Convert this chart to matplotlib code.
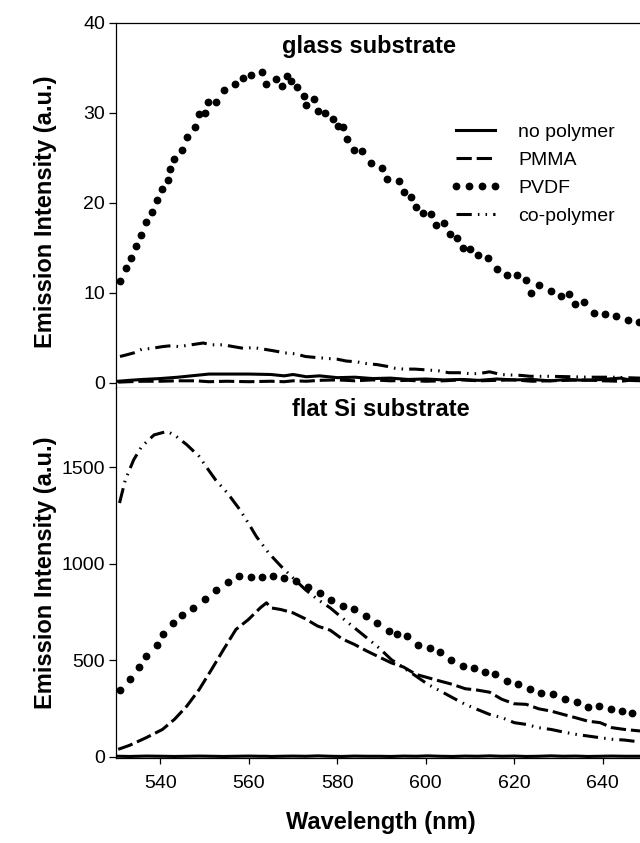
import matplotlib
matplotlib.use("Agg")
import matplotlib.pyplot as plt

plt.rcParams["font.family"] = ["Liberation Sans", "DejaVu Sans"]

# --- glass substrate (haut) ---
wl_top = [530.5, 533, 536, 540, 544, 548, 551, 555, 560, 565, 568, 570, 573, 576, 580, 584,
          588, 592, 596, 600, 604, 608, 612, 616, 620, 624, 628, 632, 636, 640, 644, 646, 648.4]
glass_none = [0.15, 0.25, 0.35, 0.45, 0.6, 0.8, 0.95, 0.95, 0.95, 0.9, 0.75, 0.9, 0.65, 0.75, 0.55, 0.6,
              0.45, 0.5, 0.35, 0.4, 0.3, 0.35, 0.25, 0.4, 0.3, 0.35, 0.2, 0.35, 0.25, 0.35, 0.5, 0.3, 0.2]
glass_pmma = [0.05, 0.1, 0.15, 0.15, 0.2, 0.2, 0.1, 0.15, 0.1, 0.15, 0.1, 0.2, 0.15, 0.25, 0.3, 0.2,
              0.3, 0.2, 0.25, 0.15, 0.2, 0.3, 0.2, 0.25, 0.3, 0.15, 0.2, 0.25, 0.3, 0.2, 0.15, 0.25, 0.2]

wl_glass_co = [530.9, 532.5, 534, 535.8, 538, 540.5, 542.5, 544.2, 547, 549.7, 551.6, 554.3, 556.5,
               558.9, 561, 563.6, 566, 568.2, 570.5, 572.8, 575, 577.4, 580, 582, 584.5, 586.7, 589,
               591.3, 593, 595, 597.5, 600.5, 603, 605.2, 607.5, 609.8, 612, 614.4, 617, 619, 621.5,
               623.6, 628, 632.9, 637, 642.1, 645, 648.4]
glass_co = [2.9, 3.1, 3.3, 3.7, 3.8, 4.0, 4.1, 4.0, 4.2, 4.4, 4.2, 4.2, 4.0, 3.8, 3.9, 3.7, 3.5, 3.3,
            3.2, 2.9, 2.8, 2.7, 2.6, 2.4, 2.3, 2.1, 2.0, 1.8, 1.6, 1.5, 1.5, 1.4, 1.3, 1.1, 1.1, 1.0,
            1.0, 1.2, 0.9, 0.85, 0.8, 0.7, 0.7, 0.65, 0.6, 0.6, 0.55, 0.5]

wl_glass_pvdf = [530.9, 532.2, 533.3, 534.5, 535.7, 536.8, 538.1, 539.2, 540.3, 541.7, 542.3, 543.2,
                 545.0, 546.1, 547.9, 548.8, 550.0, 550.9, 552.7, 554.4, 556.9, 558.8, 560.6, 562.9,
                 563.9, 566.2, 567.5, 568.7, 569.5, 571.0, 572.4, 573.0, 574.7, 575.7, 577.2, 579.1,
                 580.2, 581.4, 582.3, 583.7, 585.6, 587.6, 590.0, 591.3, 593.9, 595.0, 596.6, 597.8,
                 599.3, 601.1, 602.4, 604.2, 605.5, 607.1, 608.5, 609.9, 611.8, 614.1, 616.0, 618.3,
                 620.6, 622.7, 623.7, 625.5, 628.3, 630.5, 632.3, 633.8, 635.7, 637.9, 640.6, 643.0,
                 645.8, 648.1]
glass_pvdf = [11.3, 12.7, 13.9, 15.2, 16.4, 17.8, 19.0, 20.3, 21.5, 22.5, 23.7, 24.9,
              25.9, 27.3, 28.4, 29.8, 30.0, 31.2, 31.2, 32.5, 33.2, 33.8, 34.2, 34.5,
              33.2, 33.7, 33.0, 34.1, 33.5, 32.8, 31.9, 30.8, 31.5, 30.2, 30.0, 29.3,
              28.5, 28.4, 27.1, 25.8, 25.7, 24.4, 23.8, 22.6, 22.4, 21.2, 20.6, 19.5,
              18.8, 18.7, 17.5, 17.7, 16.5, 16.1, 15.0, 14.8, 14.2, 13.8, 12.6, 12.0,
              12.0, 11.4, 10.0, 10.8, 10.2, 9.6, 9.9, 8.7, 9.0, 7.7, 7.6, 7.4,
              7.0, 6.7]

# --- flat Si substrate (bas) ---
wl_si = [530.5, 533.1, 536.8, 540.5, 543.2, 546, 548.8, 551.6, 554.3, 557.1, 559.9, 562.6, 564,
         565, 567.3, 570, 572.8, 575.6, 578.4, 581.1, 583.9, 586.7, 589.4, 592.2, 595, 597.8,
         600.5, 603.3, 606.1, 608.9, 611.6, 614.4, 617.2, 620, 622.7, 625.5, 628.3, 631, 633.8,
         636.6, 639.4, 642.1, 644.9, 648.4]
si_none = [2, 1, 3, 2, 1, 2, 3, 2, 1, 2, 3, 2, 2, 1, 2, 3, 2, 4, 2, 1, 3, 2, 2, 1, 3, 2,
           4, 2, 1, 3, 2, 4, 2, 3, 1, 2, 4, 2, 3, 1, 2, 3, 2, 2]
si_pmma = [38, 59, 98, 141, 193, 262, 348, 452, 555, 659, 710, 771, 797,
           771, 762, 745, 714, 676, 655, 610, 581, 547, 517, 486, 464, 426,
           409, 391, 374, 352, 345, 334, 297, 274, 271, 248, 236, 219, 202,
           184, 176, 150, 141, 133]

wl_si_co = [530.8, 532.1, 534, 535.8, 538.6, 541.5, 543.2, 546, 548.8, 550.6, 552.5, 555.2, 558,
            559.9, 561.7, 564.5, 567.3, 570, 572.8, 575.6, 578.4, 581.1, 583.9, 586.7, 589.4,
            592.2, 595, 597.8, 600.5, 603.3, 606.1, 608.9, 611.6, 614.4, 617.2, 620, 622.7,
            625.5, 628.3, 631, 633.8, 636.6, 639.4, 642.1, 644.9, 648.4]
si_co = [1314, 1434, 1538, 1607, 1667, 1685, 1667, 1616, 1555, 1495, 1434, 1365, 1279,
         1210, 1141, 1055, 986, 926, 865, 814, 771, 719, 667, 615, 564,
         503, 460, 417, 374, 340, 305, 271, 245, 219, 202, 176, 167,
         150, 141, 128, 116, 107, 98, 90, 86, 76]

wl_si_pvdf = [530.9, 533.1, 535.2, 536.8, 539.2, 540.6, 542.8, 545, 547.5, 550, 552.6, 555.2,
              557.8, 560.4, 562.9, 565.5, 568, 570.6, 573.3, 576, 578.5, 581.2, 583.7, 586.4,
              589, 591.6, 593.5, 595.7, 598.2, 600.9, 603.3, 605.8, 608.3, 610.8, 613.3, 615.7,
              618.3, 620.9, 623.5, 626.1, 628.7, 631.4, 634.1, 636.7, 639.2, 641.8, 644.3, 646.7]
si_pvdf = [343, 402, 464, 521, 578, 633, 690, 736, 772, 819, 862, 905,
           936, 931, 931, 936, 924, 912, 881, 848, 814, 783, 764, 728,
           693, 650, 636, 624, 581, 564, 543, 503, 472, 460, 438, 426,
           391, 378, 353, 331, 322, 300, 283, 259, 262, 245, 236, 224]

labels = ["no polymer", "PMMA", "PVDF", "co-polymer"]
xticks = [540, 560, 580, 600, 620, 640]

# styles
lw = 2.2
dash_pmma = (5.0, 1.6)
dash_co = (5.0, 2.0, 0.5, 2.0, 0.5, 2.0)


def tracer(ax, wl_a, none, pmma, wl_p, pvdf, wl_c, co):
    ax.plot(wl_a, none, color="black", lw=lw, label=labels[0])
    ax.plot(wl_a, pmma, color="black", lw=lw, dashes=dash_pmma, label=labels[1])
    ax.plot(wl_p, pvdf, color="black", ls="none", marker="o", ms=4.6, label=labels[2], zorder=3)
    ax.plot(wl_c, co, color="black", lw=lw, dashes=dash_co, label=labels[3])


fig = plt.figure(figsize=(6.4, 8.43), dpi=100)
ax1 = fig.add_axes([116 / 640, 1 - 388 / 843, 1 - 116 / 640, (388 - 22.7) / 843])
ax2 = fig.add_axes([116 / 640, 1 - 758 / 843, 1 - 116 / 640, (758 - 388) / 843])

tracer(ax1, wl_top, glass_none, glass_pmma, wl_glass_pvdf, glass_pvdf, wl_glass_co, glass_co)
tracer(ax2, wl_si, si_none, si_pmma, wl_si_pvdf, si_pvdf, wl_si_co, si_co)

for ax in (ax1, ax2):
    ax.set_xlim(530, 648.4)
    ax.spines["right"].set_visible(False)
    for s in ("left", "top", "bottom"):
        ax.spines[s].set_linewidth(0.9)
    ax.tick_params(axis="y", direction="out", length=5, width=0.9, labelsize=14, pad=3)
    ax.tick_params(axis="x", direction="out", length=4, width=0.9, labelsize=14, pad=8)

ax1.set_ylim(-0.6, 40)
ax1.set_yticks([0, 10, 20, 30, 40])
ax1.set_xticks([])

ax2.set_ylim(-7, 1910)
ax2.set_yticks([0, 500, 1000, 1500])
ax2.set_xticks(xticks)
ax2.spines["top"].set_visible(False)

ax1.text(0.482, 0.934, "glass substrate", transform=ax1.transAxes, ha="center", va="center",
         fontsize=17, fontweight="bold")
ax2.text(0.506, 0.943, "flat Si substrate", transform=ax2.transAxes, ha="center", va="center",
         fontsize=17, fontweight="bold")

fig.text(46 / 640, 1 - 212 / 843, "Emission Intensity (a.u.)", rotation=90, ha="center", va="center",
         fontsize=17, fontweight="bold")
fig.text(46 / 640, 1 - 573 / 843, "Emission Intensity (a.u.)", rotation=90, ha="center", va="center",
         fontsize=17, fontweight="bold")
fig.text(381 / 640, 1 - 822 / 843, "Wavelength (nm)", ha="center", va="center",
         fontsize=17, fontweight="bold")

ax1.legend(loc="upper left", bbox_to_anchor=(0.638, 0.724), frameon=False, fontsize=14,
           handlelength=2.6, handletextpad=0.9, labelspacing=0.53, borderpad=0,
           borderaxespad=0, numpoints=4)

plt.savefig("out.png", dpi=100)
plt.close()
